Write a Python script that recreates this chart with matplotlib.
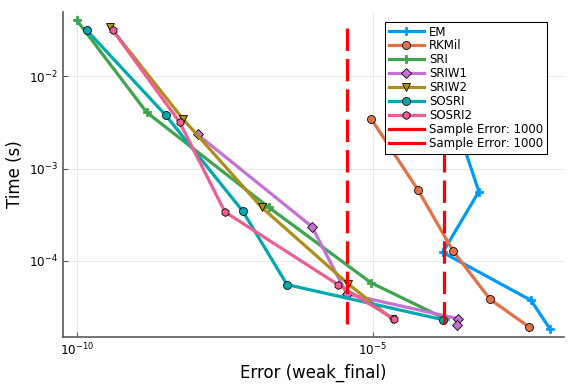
import numpy as np
import matplotlib
matplotlib.use("Agg")
import matplotlib.pyplot as plt

# --- data (log10 values) ---
em_err = [-3.45, -3.36, -3.61, -3.21, -3.82, -2.33, -2.01]
em_time = [-1.62, -1.95, -2.48, -3.25, -3.91, -4.43, -4.74]

rkmil_err = [-5.03, -4.24, -3.65, -3.02, -2.36]
rkmil_time = [-2.46, -3.23, -3.89, -4.42, -4.72]

sri_err = [-10.0, -8.82, -6.76, -5.03, -3.78]
sri_time = [-1.39, -2.39, -3.42, -4.24, -4.63]

sriw1_err = [-7.96, -6.03, -5.44, -3.56, -3.58]
sriw1_time = [-2.63, -3.63, -4.36, -4.63, -4.70]

sriw2_err = [-9.44, -8.21, -6.88, -5.42, -4.68]
sriw2_time = [-1.46, -2.46, -3.42, -4.25, -4.63]

sosri_err = [-9.83, -8.50, -7.20, -6.45, -3.82]
sosri_time = [-1.50, -2.42, -3.46, -4.26, -4.64]

sosri2_err = [-9.39, -8.26, -7.50, -5.59, -4.65]
sosri2_time = [-1.50, -2.50, -3.47, -4.26, -4.63]

sample_err = [-5.44, -3.80]
sample_time = [-1.48, -4.73]

series = [
    ("EM", em_err, em_time, "#009AFA", "P"),
    ("RKMil", rkmil_err, rkmil_time, "#E36F47", "o"),
    ("SRI", sri_err, sri_time, "#3EA44E", "P"),
    ("SRIW1", sriw1_err, sriw1_time, "#C371D2", "D"),
    ("SRIW2", sriw2_err, sriw2_time, "#AC8E18", "v"),
    ("SOSRI", sosri_err, sosri_time, "#00A9AD", "o"),
    ("SOSRI2", sosri2_err, sosri2_time, "#ED5E93", "h"),
]

fig = plt.figure(figsize=(6, 4), dpi=96)
ax = fig.add_axes([0.109, 0.122, 0.870, 0.847])

for name, xs, ys, col, mk in series:
    ms = 6 if mk in ("o", "h", "v") else 5.5
    mec = col if mk == "P" else "black"
    ax.plot(10.0 ** np.array(xs), 10.0 ** np.array(ys), color=col, lw=2.4,
            marker=mk, ms=ms, mec=mec, mew=0.6, label=name)

for e in sample_err:
    ax.plot([10.0 ** e] * 2, 10.0 ** np.array(sample_time), color="red", lw=2.4,
            dashes=(7, 2.5), label="Sample Error: 1000")

ax.set_xscale("log")
ax.set_yscale("log")
ax.set_xlim(10 ** -10.236, 10 ** -1.774)
ax.set_ylim(10 ** -4.83, 10 ** -1.30)
ax.set_xticks([1e-10, 1e-5])
ax.set_yticks([1e-4, 1e-3, 1e-2])
ax.minorticks_off()
ax.grid(True, color="#e8e8e8", lw=0.7)
ax.set_axisbelow(True)
for s in ("top", "right"):
    ax.spines[s].set_visible(False)
for s in ("left", "bottom"):
    ax.spines[s].set_color("#555555")
    ax.spines[s].set_linewidth(1.2)
ax.tick_params(direction="in", length=4, width=0.8, labelsize=9, color="#555555")

ax.set_xlabel("Error (weak_final)", fontsize=12.5)
ax.set_ylabel("Time (s)", fontsize=12.5)

leg = ax.legend(loc="upper right", bbox_to_anchor=(0.966, 0.969), borderaxespad=0,
                fontsize=8.8, frameon=True, fancybox=False, framealpha=1,
                edgecolor="black", borderpad=0.3, labelspacing=0.08,
                handlelength=3.0, handletextpad=0.45)
leg.get_frame().set_linewidth(0.8)
leg.set_zorder(10)
for line in leg.get_lines()[-2:]:
    line.set_linestyle("-")

plt.savefig("out.png", dpi=96)
